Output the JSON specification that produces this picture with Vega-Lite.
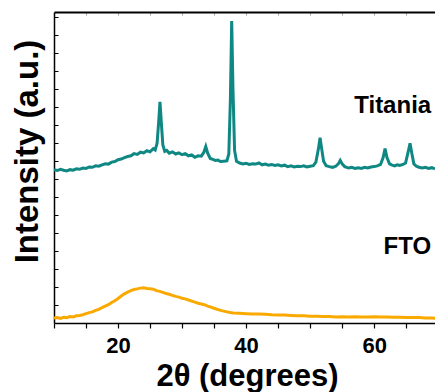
{
"$schema": "https://vega.github.io/schema/vega-lite/v6.json",
"autosize": {"type": "none"},
"padding": {"left": 54, "top": 12, "right": 0, "bottom": 69},
"width": 381,
"height": 311,
"config": {"view": {"stroke": null}, "font": "Liberation Sans"},
"resolve": {"axis": {"x": "independent", "y": "independent"}},
"datasets": {
"xrd": [
{"s":"Titania","x":10.0,"y":8.52},{"s":"Titania","x":10.5,"y":8.48},{"s":"Titania","x":11.0,"y":8.55},{"s":"Titania","x":11.5,"y":8.5},{"s":"Titania","x":12.0,"y":8.46},{"s":"Titania","x":12.5,"y":8.53},{"s":"Titania","x":13.0,"y":8.5},{"s":"Titania","x":13.5,"y":8.58},{"s":"Titania","x":14.0,"y":8.55},{"s":"Titania","x":14.5,"y":8.62},{"s":"Titania","x":15.0,"y":8.6},{"s":"Titania","x":15.5,"y":8.68},{"s":"Titania","x":16.0,"y":8.66},{"s":"Titania","x":16.5,"y":8.74},{"s":"Titania","x":17.0,"y":8.72},{"s":"Titania","x":17.5,"y":8.8},{"s":"Titania","x":18.0,"y":8.86},{"s":"Titania","x":18.5,"y":8.84},{"s":"Titania","x":19.0,"y":8.95},{"s":"Titania","x":19.5,"y":8.98},{"s":"Titania","x":20.0,"y":9.08},{"s":"Titania","x":20.5,"y":9.12},{"s":"Titania","x":21.0,"y":9.2},{"s":"Titania","x":21.5,"y":9.26},{"s":"Titania","x":22.0,"y":9.3},{"s":"Titania","x":22.5,"y":9.42},{"s":"Titania","x":23.0,"y":9.38},{"s":"Titania","x":23.5,"y":9.5},{"s":"Titania","x":24.0,"y":9.46},{"s":"Titania","x":24.5,"y":9.58},{"s":"Titania","x":25.0,"y":9.52},{"s":"Titania","x":25.5,"y":9.7},{"s":"Titania","x":25.8,"y":9.62},{"s":"Titania","x":26.1,"y":10.0},{"s":"Titania","x":26.35,"y":11.2},{"s":"Titania","x":26.55,"y":12.3},{"s":"Titania","x":26.75,"y":11.2},{"s":"Titania","x":27.0,"y":9.9},{"s":"Titania","x":27.3,"y":9.55},{"s":"Titania","x":27.6,"y":9.6},{"s":"Titania","x":28.0,"y":9.45},{"s":"Titania","x":28.5,"y":9.52},{"s":"Titania","x":29.0,"y":9.4},{"s":"Titania","x":29.5,"y":9.46},{"s":"Titania","x":30.0,"y":9.36},{"s":"Titania","x":30.5,"y":9.42},{"s":"Titania","x":31.0,"y":9.3},{"s":"Titania","x":31.5,"y":9.35},{"s":"Titania","x":32.0,"y":9.22},{"s":"Titania","x":32.5,"y":9.3},{"s":"Titania","x":33.0,"y":9.28},{"s":"Titania","x":33.4,"y":9.5},{"s":"Titania","x":33.7,"y":9.82},{"s":"Titania","x":34.0,"y":9.45},{"s":"Titania","x":34.4,"y":9.15},{"s":"Titania","x":34.8,"y":9.1},{"s":"Titania","x":35.2,"y":9.04},{"s":"Titania","x":35.6,"y":9.06},{"s":"Titania","x":36.0,"y":8.98},{"s":"Titania","x":36.5,"y":9.0},{"s":"Titania","x":37.0,"y":9.02},{"s":"Titania","x":37.3,"y":9.4},{"s":"Titania","x":37.55,"y":12.5},{"s":"Titania","x":37.75,"y":16.8},{"s":"Titania","x":37.95,"y":13.0},{"s":"Titania","x":38.2,"y":9.6},{"s":"Titania","x":38.5,"y":9.0},{"s":"Titania","x":39.0,"y":8.9},{"s":"Titania","x":39.5,"y":8.85},{"s":"Titania","x":40.0,"y":8.88},{"s":"Titania","x":40.5,"y":8.82},{"s":"Titania","x":41.0,"y":8.86},{"s":"Titania","x":41.5,"y":8.84},{"s":"Titania","x":42.0,"y":8.9},{"s":"Titania","x":42.5,"y":8.8},{"s":"Titania","x":43.0,"y":8.84},{"s":"Titania","x":43.5,"y":8.78},{"s":"Titania","x":44.0,"y":8.82},{"s":"Titania","x":44.5,"y":8.76},{"s":"Titania","x":45.0,"y":8.8},{"s":"Titania","x":45.5,"y":8.74},{"s":"Titania","x":46.0,"y":8.78},{"s":"Titania","x":46.5,"y":8.7},{"s":"Titania","x":47.0,"y":8.74},{"s":"Titania","x":47.5,"y":8.68},{"s":"Titania","x":48.0,"y":8.72},{"s":"Titania","x":48.5,"y":8.7},{"s":"Titania","x":49.0,"y":8.74},{"s":"Titania","x":49.5,"y":8.68},{"s":"Titania","x":50.0,"y":8.72},{"s":"Titania","x":50.5,"y":8.75},{"s":"Titania","x":50.9,"y":8.95},{"s":"Titania","x":51.3,"y":9.7},{"s":"Titania","x":51.55,"y":10.3},{"s":"Titania","x":51.8,"y":9.7},{"s":"Titania","x":52.1,"y":9.0},{"s":"Titania","x":52.5,"y":8.75},{"s":"Titania","x":53.0,"y":8.7},{"s":"Titania","x":53.5,"y":8.66},{"s":"Titania","x":54.0,"y":8.72},{"s":"Titania","x":54.4,"y":8.85},{"s":"Titania","x":54.7,"y":9.05},{"s":"Titania","x":55.0,"y":8.85},{"s":"Titania","x":55.4,"y":8.7},{"s":"Titania","x":56.0,"y":8.62},{"s":"Titania","x":56.5,"y":8.66},{"s":"Titania","x":57.0,"y":8.6},{"s":"Titania","x":57.5,"y":8.64},{"s":"Titania","x":58.0,"y":8.6},{"s":"Titania","x":58.5,"y":8.66},{"s":"Titania","x":59.0,"y":8.62},{"s":"Titania","x":59.5,"y":8.68},{"s":"Titania","x":60.0,"y":8.7},{"s":"Titania","x":60.5,"y":8.74},{"s":"Titania","x":61.0,"y":8.82},{"s":"Titania","x":61.4,"y":9.2},{"s":"Titania","x":61.7,"y":9.7},{"s":"Titania","x":62.0,"y":9.2},{"s":"Titania","x":62.4,"y":8.85},{"s":"Titania","x":62.8,"y":8.78},{"s":"Titania","x":63.2,"y":8.74},{"s":"Titania","x":63.6,"y":8.8},{"s":"Titania","x":64.0,"y":8.76},{"s":"Titania","x":64.5,"y":8.82},{"s":"Titania","x":64.9,"y":8.9},{"s":"Titania","x":65.3,"y":9.5},{"s":"Titania","x":65.6,"y":10.0},{"s":"Titania","x":65.9,"y":9.4},{"s":"Titania","x":66.2,"y":8.85},{"s":"Titania","x":66.6,"y":8.72},{"s":"Titania","x":67.0,"y":8.66},{"s":"Titania","x":67.5,"y":8.62},{"s":"Titania","x":68.0,"y":8.66},{"s":"Titania","x":68.5,"y":8.6},{"s":"Titania","x":69.0,"y":8.64},{"s":"Titania","x":69.5,"y":8.58},
{"s":"FTO","x":10,"y":0.28},{"s":"FTO","x":10.5,"y":0.3},{"s":"FTO","x":11,"y":0.26},{"s":"FTO","x":11.5,"y":0.32},{"s":"FTO","x":12,"y":0.3},{"s":"FTO","x":12.5,"y":0.36},{"s":"FTO","x":13,"y":0.34},{"s":"FTO","x":13.5,"y":0.4},{"s":"FTO","x":14,"y":0.42},{"s":"FTO","x":14.5,"y":0.46},{"s":"FTO","x":15,"y":0.52},{"s":"FTO","x":15.5,"y":0.58},{"s":"FTO","x":16,"y":0.62},{"s":"FTO","x":16.5,"y":0.7},{"s":"FTO","x":17,"y":0.76},{"s":"FTO","x":17.5,"y":0.86},{"s":"FTO","x":18,"y":0.94},{"s":"FTO","x":18.5,"y":1.02},{"s":"FTO","x":19,"y":1.14},{"s":"FTO","x":19.5,"y":1.24},{"s":"FTO","x":20,"y":1.36},{"s":"FTO","x":20.5,"y":1.5},{"s":"FTO","x":21,"y":1.62},{"s":"FTO","x":21.5,"y":1.72},{"s":"FTO","x":22,"y":1.8},{"s":"FTO","x":22.5,"y":1.86},{"s":"FTO","x":23,"y":1.9},{"s":"FTO","x":23.5,"y":1.94},{"s":"FTO","x":24,"y":1.96},{"s":"FTO","x":24.5,"y":1.92},{"s":"FTO","x":25,"y":1.9},{"s":"FTO","x":25.5,"y":1.88},{"s":"FTO","x":26,"y":1.8},{"s":"FTO","x":26.5,"y":1.76},{"s":"FTO","x":27,"y":1.7},{"s":"FTO","x":27.5,"y":1.64},{"s":"FTO","x":28,"y":1.6},{"s":"FTO","x":28.5,"y":1.54},{"s":"FTO","x":29,"y":1.48},{"s":"FTO","x":29.5,"y":1.44},{"s":"FTO","x":30,"y":1.38},{"s":"FTO","x":30.5,"y":1.34},{"s":"FTO","x":31,"y":1.28},{"s":"FTO","x":31.5,"y":1.22},{"s":"FTO","x":32,"y":1.16},{"s":"FTO","x":32.5,"y":1.1},{"s":"FTO","x":33,"y":1.06},{"s":"FTO","x":33.5,"y":1.02},{"s":"FTO","x":34,"y":0.94},{"s":"FTO","x":34.5,"y":0.88},{"s":"FTO","x":35,"y":0.82},{"s":"FTO","x":35.5,"y":0.76},{"s":"FTO","x":36,"y":0.7},{"s":"FTO","x":36.5,"y":0.66},{"s":"FTO","x":37,"y":0.62},{"s":"FTO","x":37.5,"y":0.58},{"s":"FTO","x":38,"y":0.56},{"s":"FTO","x":39,"y":0.54},{"s":"FTO","x":40,"y":0.52},{"s":"FTO","x":41,"y":0.5},{"s":"FTO","x":42,"y":0.5},{"s":"FTO","x":43,"y":0.48},{"s":"FTO","x":44,"y":0.46},{"s":"FTO","x":45,"y":0.45},{"s":"FTO","x":46,"y":0.44},{"s":"FTO","x":47,"y":0.42},{"s":"FTO","x":48,"y":0.4},{"s":"FTO","x":49,"y":0.4},{"s":"FTO","x":50,"y":0.38},{"s":"FTO","x":51,"y":0.38},{"s":"FTO","x":52,"y":0.36},{"s":"FTO","x":53,"y":0.36},{"s":"FTO","x":54,"y":0.34},{"s":"FTO","x":55,"y":0.35},{"s":"FTO","x":56,"y":0.34},{"s":"FTO","x":57,"y":0.35},{"s":"FTO","x":58,"y":0.34},{"s":"FTO","x":59,"y":0.34},{"s":"FTO","x":60,"y":0.35},{"s":"FTO","x":61,"y":0.33},{"s":"FTO","x":62,"y":0.34},{"s":"FTO","x":63,"y":0.32},{"s":"FTO","x":64,"y":0.32},{"s":"FTO","x":65,"y":0.3},{"s":"FTO","x":66,"y":0.3},{"s":"FTO","x":67,"y":0.3},{"s":"FTO","x":68,"y":0.28},{"s":"FTO","x":69,"y":0.28},{"s":"FTO","x":69.5,"y":0.27}
]
},
"layer": [
{
"data": {"name": "xrd"},
"mark": {"type": "line", "strokeWidth": 3, "clip": true},
"encoding": {
"x": {"field": "x", "type": "quantitative",
"scale": {"domain": [10, 69.5], "nice": false, "zero": false},
"axis": {"orient": "bottom", "values": [10,15,20,25,30,35,40,45,50,55,60,65],
"labelExpr": "datum.value % 20 == 0 ? datum.label : ''",
"grid": false, "domainColor": "black", "domainWidth": 1.5, "tickColor": "black", "tickWidth": 1.2, "tickSize": 5,
"labelFont": "Liberation Sans", "labelFontSize": 22, "labelFontWeight": "bold", "labelColor": "black",
"labelBaseline": "alphabetic", "labelPadding": 24, "labelFlush": false,
"title": "2θ (degrees)", "titleFont": "Liberation Sans", "titleFontSize": 31, "titleFontWeight": "bold", "titleColor": "black",
"titleX": 193, "titleY": 62, "titleBaseline": "alphabetic", "titleAlign": "center"}},
"y": {"field": "y", "type": "quantitative",
"scale": {"domain": [0, 17.3], "nice": false, "zero": false},
"axis": {"orient": "left", "values": [1,2,3,4,5,6,7,8,9,10,11,12,13,14,15,16,17], "labels": false,
"grid": false, "domainColor": "black", "domainWidth": 1.5, "tickColor": "black", "tickWidth": 1, "tickSize": -4,
"title": "Intensity (a.u.)", "titleFont": "Liberation Sans", "titleFontSize": 33, "titleFontWeight": "bold", "titleColor": "black",
"titleAngle": -90, "titleX": -27, "titleY": 139, "titleBaseline": "middle", "titleAlign": "center"}},
"color": {"field": "s", "type": "nominal", "scale": {"domain": ["Titania", "FTO"], "range": ["#0f8884", "#f9a900"]}, "legend": null}
}
},
{
"data": {"values": [{"lab": "Titania", "lx": 68.9, "ly": 11.67}, {"lab": "FTO", "lx": 68.9, "ly": 3.83}]},
"mark": {"type": "text", "align": "right", "baseline": "alphabetic", "font": "Liberation Sans", "fontSize": 24, "fontWeight": "bold", "color": "black"},
"encoding": {"text": {"field": "lab"}, "x": {"field": "lx", "type": "quantitative", "axis": null}, "y": {"field": "ly", "type": "quantitative", "axis": null}}
},
{
"data": {"values": [{"v": 10}]},
"mark": {"type": "rule", "color": "black", "strokeWidth": 0},
"encoding": {
"x": {"field": "v", "type": "quantitative",
"axis": {"orient": "top", "values": [15,20,25,30,35,40,45,50,55,60,65], "labels": false, "title": null, "grid": false,
"domainColor": "black", "domainWidth": 1.8, "tickColor": "#aaaaaa", "tickSize": -3, "tickWidth": 1}}
}
}
]
}
